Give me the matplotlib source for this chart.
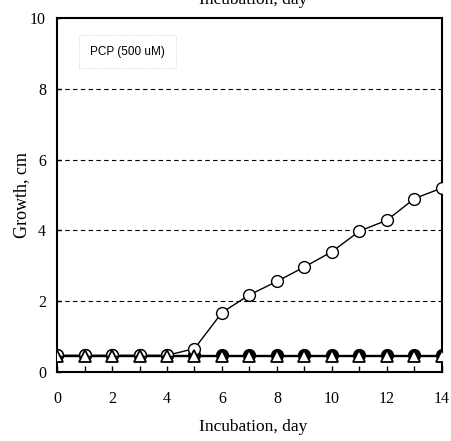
import matplotlib
matplotlib.use("Agg")
import matplotlib.pyplot as plt
import numpy as np

days = list(range(15))
circle_open = [0.47, 0.47, 0.47, 0.47, 0.47, 0.66, 1.68, 2.18, 2.56, 2.97, 3.40, 3.98, 4.29, 4.90, 5.20]
circle_filled = [0.47] * 15
triangle_open = [0.45] * 15
yticks = [0, 2, 4, 6, 8, 10]
xticks_labeled = [0, 2, 4, 6, 8, 10, 12, 14]

serif = ["Liberation Serif", "DejaVu Serif"]

fig = plt.figure(figsize=(4.51, 4.41), dpi=100)
ax = fig.add_axes([0.1264, 0.1565, 0.8536, 0.8025])

ax.plot(days, circle_filled, "-", color="black", lw=1.0, marker="o", ms=8.5,
        mfc="black", mec="black", zorder=3)
ax.plot(days, circle_open, "-", color="black", lw=1.0, marker="o", ms=8.5,
        mfc="white", mec="black", mew=1.0, zorder=4)
ax.plot(days, triangle_open, "-", color="black", lw=1.0, marker="^", ms=8.5,
        mfc="white", mec="black", mew=1.3, zorder=5)

ax.set_xlim(0, 14)
ax.set_ylim(0, 10)
ax.set_xticks(days)
ax.set_xticklabels([str(d) if d in xticks_labeled else "" for d in days])
ax.set_yticks(yticks)
ax.set_yticklabels([str(v) for v in yticks])
for y in yticks[1:-1]:
    ax.axhline(y, color="black", lw=0.8, ls=(0, (4, 3)), zorder=1)

ax.tick_params(axis="x", direction="in", length=4, width=1, pad=14, labelsize=11.5)
ax.tick_params(axis="y", direction="in", length=3, width=1, pad=8, labelsize=11.5)
for lab in ax.get_xticklabels() + ax.get_yticklabels():
    lab.set_family(serif)
for s in ax.spines.values():
    s.set_linewidth(1.5)
    s.set_color("black")

fig.text(0.5605, (441 - 427) / 441, "Incubation, day", family=serif, fontsize=12.5,
         ha="center", va="center")
fig.text(22 / 451, (441 - 195) / 441, "Growth, cm", family=serif, fontsize=13,
         ha="center", va="center", rotation=90)

ax.text(1.2, 9.05, "PCP (500 uM)", family=["Liberation Sans", "DejaVu Sans"],
        fontsize=8.5, va="center", ha="left",
        bbox=dict(boxstyle="square,pad=0.9", fc="white", ec="#c8c8c8",
                  lw=0.6, ls=":"))

fig.text(0.5605, 1.0, "Incubation, day", family=serif, fontsize=12.5,
         ha="center", va="center")

fig.savefig("out.png", dpi=100)
